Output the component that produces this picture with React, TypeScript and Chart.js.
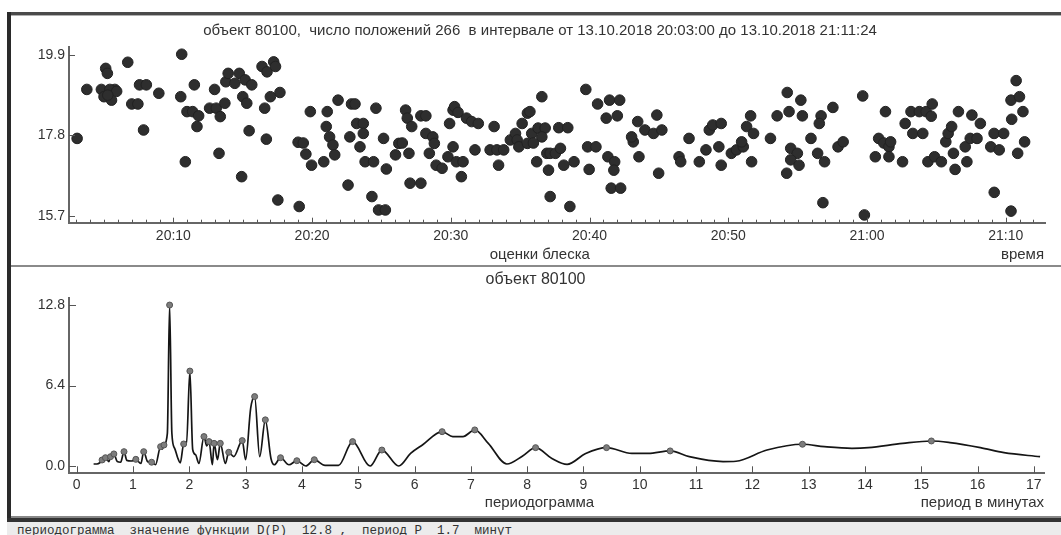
import React, { useEffect, useRef } from 'react';
import { Chart, registerables } from 'chart.js';

Chart.register(...registerables);
Chart.defaults.font.family = '"Liberation Sans", Arial, sans-serif';

const TITLE_TOP = 'объект 80100,  число положений 266  в интервале от 13.10.2018 20:03:00 до 13.10.2018 21:11:24';
const TITLE_BOTTOM = 'объект 80100';
const X_TITLE_TOP = 'оценки блеска';
const X_UNIT_TOP = 'время';
const X_TITLE_BOTTOM = 'периодограмма';
const X_UNIT_BOTTOM = 'период в минутах';
const STATUS_TEXT = 'периодограмма  значение функции D(P)  12.8 ,  период P  1.7  минут';

// minutes after 20:00
const timeTicks = [10, 20, 30, 40, 50, 60, 70];
const magTicks = [15.7, 17.8, 19.9];
const periodTicks = [0, 1, 2, 3, 4, 5, 6, 7, 8, 9, 10, 11, 12, 13, 14, 15, 16, 17];
const powerTicks = [0.0, 6.4, 12.8];

// observation times (minutes after 20:00)
const obsMinutes = [
  3.06, 3.76, 5.12, 5.24, 4.81, 5.0, 5.54, 5.78, 5.42, 5.91, 5.27, 6.71, 7.0, 7.44, 7.56, 8.05, 7.85, 8.95,
  10.53, 10.6, 10.86, 10.98, 11.51, 11.39, 11.82, 11.7, 12.61, 12.97, 13.09, 13.29, 13.38, 13.71, 13.78, 13.95,
  14.43, 14.75, 14.92, 15.0, 15.29, 15.17, 15.65, 15.46, 16.39, 16.75, 17.23, 17.36, 16.58, 16.99, 17.68, 16.7,
  17.53, 19.07, 18.99, 19.36, 19.55, 19.87, 19.96, 20.84, 21.02, 21.09, 21.26, 21.5, 21.63, 21.87, 22.59, 22.72,
  22.84, 23.09, 23.21, 23.45, 23.69, 23.69, 23.82, 24.31, 24.43, 24.6, 24.79, 25.28, 25.15, 25.35, 26.01, 26.25,
  26.5, 26.74, 26.86, 26.98, 27.06, 27.18, 27.84, 27.84, 28.2, 28.2, 28.45, 28.7, 28.81, 28.94, 29.37, 29.79,
  29.91, 30.16, 30.27, 30.52, 30.16, 30.4, 30.88, 30.76, 31.13, 31.5, 31.98, 31.74, 32.83, 33.12, 33.44, 33.32,
  33.81, 34.29, 34.66, 34.78, 34.9, 35.14, 35.52, 35.52,
  35.7, 35.83, 35.95, 36.56, 36.29, 36.8, 36.56, 36.19, 36.92, 37.16, 37.54, 37.9, 37.04, 37.16, 37.78, 38.43,
  38.14, 38.88, 38.58, 39.73, 39.86, 39.97, 40.46, 40.58, 41.44, 42.17, 41.2, 42.0, 41.32, 41.81, 41.75, 41.56,
  42.24, 43.15, 43.03, 43.47, 43.99, 43.56, 44.85, 44.61, 45.21, 44.98, 46.45, 46.57, 47.17, 47.91, 48.39, 48.63,
  48.88, 49.49, 49.32, 49.49, 50.22, 50.59, 51.08, 50.96, 51.32, 51.61, 51.82, 51.68, 53.04, 53.52, 54.25, 54.38,
  55.23, 55.34, 54.5, 54.98, 54.5, 55.1, 54.21, 55.96, 56.69, 56.56, 57.54, 56.44, 56.94, 56.82, 57.91, 58.28,
  59.69, 59.81, 61.33, 60.84, 61.21, 61.58, 61.7, 60.6, 61.58, 62.56, 62.75, 63.17, 63.3, 64.02, 63.77, 64.26,
  64.7, 64.63, 64.39, 64.87, 65.36, 65.68, 65.85, 66.1, 66.23, 66.35, 66.59, 67.08, 67.2, 67.44, 67.56, 67.93,
  68.17, 69.17, 68.92, 69.53, 69.16, 69.85, 70.43, 70.38, 70.75, 70.99, 71.24, 71.36, 70.86, 70.38,
];

// brightness estimates (magnitudes)
const obsMag = [
  17.72, 19.0, 19.55, 19.42, 19.0, 18.81, 18.72, 19.0, 19.0, 18.95, 18.85, 19.71, 18.62, 18.62, 19.12, 19.12, 17.94, 18.9,
  18.81, 19.92, 17.11, 18.42, 19.12, 18.42, 18.31, 18.03, 18.51, 19.0, 18.51, 17.33, 18.29, 18.64, 19.2, 19.42,
  19.16, 19.42, 16.72, 18.81, 18.64, 19.25, 19.12, 17.92, 19.6, 19.46, 19.72, 19.6, 18.51, 18.81, 18.92, 17.7,
  16.11, 15.94, 17.62, 17.6, 17.31, 18.42, 17.02, 17.11, 18.03, 18.42, 17.76, 17.55, 17.29, 18.72, 16.5, 17.76,
  18.62, 18.62, 18.11, 17.5, 18.11, 17.85, 17.11, 16.2, 17.11, 18.51, 15.85, 15.85, 17.72, 16.92, 17.29, 17.59,
  17.6, 18.46, 18.25, 17.33, 16.55, 18.03, 16.55, 18.31, 18.31, 17.85, 17.33, 17.76, 17.59, 17.02, 16.94, 17.24,
  18.11, 18.46, 18.55, 18.4, 17.5, 17.11, 17.11, 16.72, 18.25, 18.16, 18.11, 17.42, 17.42, 18.03, 17.02, 17.42,
  17.42, 17.68, 17.85, 17.68, 17.5, 18.11, 18.38, 17.59,
  18.42, 17.85, 17.6, 18.81, 17.99, 17.99, 17.76, 17.11, 17.33, 17.33, 17.33, 17.46, 16.89, 16.2, 18.0, 18.0,
  17.02, 17.11, 15.94, 19.0, 17.5, 16.91, 17.5, 18.62, 18.72, 18.72, 18.25, 18.31, 17.24, 17.11, 16.89, 16.42,
  16.42, 17.63, 17.76, 18.16, 17.94, 17.24, 18.33, 17.85, 17.94, 16.81, 17.24, 17.11, 17.72, 17.11, 17.42, 17.94,
  18.07, 18.11, 17.5, 17.02, 17.33, 17.42, 17.5, 17.63, 18.03, 18.31, 17.85, 17.11, 17.72, 18.31, 18.92, 18.42,
  18.72, 18.31, 17.46, 17.33, 17.16, 17.02, 16.81, 17.72, 18.31, 18.11, 18.53, 17.33, 17.11, 16.04, 17.5, 17.63,
  18.83, 15.72, 18.42, 17.72, 17.6, 17.5, 17.63, 17.24, 17.24, 17.11, 18.11, 18.42, 17.85, 17.85, 18.42, 18.42,
  18.62, 18.3, 17.11, 17.24, 17.11, 17.63, 17.85, 18.03, 17.33, 16.91, 18.42, 17.5, 17.11, 17.72, 18.33, 17.72,
  18.11, 16.31, 17.5, 17.42, 17.85, 17.85, 18.22, 18.72, 19.23, 18.81, 18.42, 17.63, 17.33, 15.82,
];

// periodogram: period (minutes) and D(P)
const periodP = [
  0.30, 0.36, 0.41, 0.45, 0.48, 0.51, 0.57, 0.60, 0.66, 0.72, 0.78, 0.84, 0.89, 0.97, 1.05, 1.14, 1.19, 1.26,
  1.33, 1.40, 1.49, 1.52, 1.55, 1.61, 1.65, 1.69, 1.74, 1.79, 1.84, 1.90, 1.95, 2.01, 2.06, 2.11, 2.17, 2.26,
  2.31, 2.35, 2.41, 2.44, 2.50, 2.55, 2.64, 2.70, 2.79, 2.94, 3.00, 3.09, 3.16, 3.25, 3.35, 3.45, 3.51, 3.62,
  3.77, 3.91, 4.07, 4.22, 4.41, 4.65, 4.90, 5.21, 5.42, 5.72, 5.93, 6.14, 6.49, 6.68, 6.86, 7.07, 7.31, 7.64,
  7.92, 8.15, 8.44, 8.71, 9.04, 9.41, 9.86, 10.15, 10.54, 10.88, 11.48, 11.71, 12.26, 12.89, 13.28, 13.77,
  14.06, 14.67, 15.18, 15.51, 16.05, 16.47, 17.11,
];
const periodD = [
  0.16, 0.16, 0.26, 0.48, 0.35, 0.66, 0.35, 0.74, 0.96, 0.35, 0.30, 1.14, 0.45, 0.40, 0.53, 0.20, 1.14, 0.35,
  0.30, 0.10, 1.54, 1.35, 1.67, 2.6, 12.8, 2.6, 1.4, 0.7, 0.25, 1.75, 1.75, 7.55, 1.3, 0.9, 0.2, 2.34,
  1.6, 1.94, 0.1, 1.8, 0.5, 1.8, 0.2, 1.09, 0.75, 2.02, 0.5, 4.6, 5.52, 0.74, 3.67, 0.6, 0.1, 0.66,
  0.1, 0.42, 0.0, 0.5, 0.05, 0.05, 1.94, 0.0, 1.27, 0.0, 1.0, 1.67, 2.73, 2.34, 2.34, 2.87, 1.8, 0.16,
  0.8, 1.46, 0.6, 0.13, 1.0, 1.46, 1.0, 1.0, 1.2, 0.74, 0.35, 0.38, 1.27, 1.73, 1.54, 1.41,
  1.46, 1.8, 1.99, 1.86, 1.46, 1.06, 0.74,
];

// marked local maxima of the periodogram
const peakP = [
  0.45, 0.51, 0.60, 0.66, 0.84, 1.05, 1.19, 1.33, 1.49, 1.55, 1.65, 1.90, 2.01, 2.26, 2.35, 2.44, 2.55,
  2.70, 2.94, 3.16, 3.35, 3.62, 3.91, 4.22, 4.90, 5.42, 6.49, 7.07, 8.15, 9.41, 10.54, 12.89, 15.18,
];
const peakD = [
  0.48, 0.66, 0.74, 0.96, 1.14, 0.53, 1.14, 0.30, 1.54, 1.67, 12.8, 1.75, 7.55, 2.34, 1.94, 1.8, 1.8,
  1.09, 2.02, 5.52, 3.67, 0.66, 0.42, 0.5, 1.94, 1.27, 2.73, 2.87, 1.46, 1.46, 1.2, 1.73, 1.99,
];

function timeLabel(m: number): string {
  const h = 20 + Math.floor(m / 60);
  const mm = Math.round(m % 60);
  return `${h}:${String(mm).padStart(2, '0')}`;
}

type TextItem = { text: string; x: number; y: number; align: CanvasTextAlign; font: string };

const decorPlugin = {
  id: 'decor',
  afterDraw(chart: any, _args: any, opts: any) {
    const { ctx, chartArea, scales } = chart;
    const xs = scales.x;
    const ys = scales.y;
    ctx.save();
    ctx.strokeStyle = opts.tickColor || '#555';
    ctx.lineWidth = 1;
    for (const m of opts.xMarks as { v: number; len: number }[]) {
      const px = Math.round(xs.getPixelForValue(m.v)) + 0.5;
      ctx.beginPath();
      ctx.moveTo(px, chartArea.bottom);
      ctx.lineTo(px, chartArea.bottom - m.len);
      ctx.stroke();
    }
    for (const v of opts.yMarks as number[]) {
      const py = Math.round(ys.getPixelForValue(v)) + 0.5;
      ctx.beginPath();
      ctx.moveTo(chartArea.left, py);
      ctx.lineTo(chartArea.left + opts.yLen, py);
      ctx.stroke();
    }
    ctx.fillStyle = '#333';
    ctx.textBaseline = 'middle';
    for (const t of opts.texts as TextItem[]) {
      ctx.font = t.font;
      ctx.textAlign = t.align;
      ctx.fillText(t.text, t.x, t.y);
    }
    ctx.restore();
  },
};

const FONT_TXT = '15px "Liberation Sans", Arial, sans-serif';
const FONT_TITLE2 = '16px "Liberation Sans", Arial, sans-serif';

export default function App() {
  const topRef = useRef<HTMLCanvasElement | null>(null);
  const botRef = useRef<HTMLCanvasElement | null>(null);

  useEffect(() => {
    const minuteMarks: { v: number; len: number }[] = [];
    for (let m = 3; m <= 72; m++) minuteMarks.push({ v: m, len: timeTicks.includes(m) ? 5 : 3 });

    const noGrid = { display: false, drawTicks: false, tickLength: 0 };

    const top = new Chart(topRef.current as HTMLCanvasElement, {
      type: 'scatter',
      data: {
        datasets: [
          {
            data: obsMinutes.map((t, i) => ({ x: t, y: obsMag[i] })),
            pointRadius: 5.3,
            pointBackgroundColor: '#2e2e2e',
            pointBorderColor: '#222',
            pointBorderWidth: 1,
            clip: false as any,
          },
        ],
      },
      options: {
        responsive: false,
        animation: false,
        devicePixelRatio: 1,
        events: [],
        layout: { padding: { left: 0, right: 16, top: 31, bottom: 0 } },
        plugins: {
          legend: { display: false },
          tooltip: { enabled: false },
          decor: {
            xMarks: minuteMarks,
            yMarks: magTicks,
            yLen: 6,
            texts: [
              { text: TITLE_TOP, x: 540, y: 15, align: 'center', font: FONT_TXT },
              { text: X_TITLE_TOP, x: 539.8, y: 238.5, align: 'center', font: FONT_TXT },
              { text: X_UNIT_TOP, x: 1044, y: 238.5, align: 'right', font: FONT_TXT },
            ],
          },
        } as any,
        scales: {
          x: {
            type: 'linear',
            min: 2.475,
            max: 72.83,
            grid: noGrid,
            border: { display: true, color: '#666', width: 2 },
            afterBuildTicks: (s: any) => {
              s.ticks = timeTicks.map((v) => ({ value: v }));
            },
            afterFit: (s: any) => {
              s.height = 42.3;
            },
            ticks: {
              autoSkip: false,
              maxRotation: 0,
              padding: 5,
              color: '#333',
              font: { size: 14 },
              callback: (v: any) => timeLabel(Number(v)),
            },
          },
          y: {
            type: 'linear',
            min: 15.517,
            max: 20.109,
            grid: noGrid,
            border: { display: true, color: '#666', width: 2 },
            afterBuildTicks: (s: any) => {
              s.ticks = magTicks.map((v) => ({ value: v }));
            },
            afterFit: (s: any) => {
              s.width = 69;
            },
            ticks: {
              padding: 4,
              color: '#333',
              font: { size: 14 },
              callback: (v: any) => Number(v).toFixed(1),
            },
          },
        },
      },
      plugins: [decorPlugin],
    });

    const bot = new Chart(botRef.current as HTMLCanvasElement, {
      type: 'scatter',
      data: {
        datasets: [
          {
            data: peakP.map((p, i) => ({ x: p, y: peakD[i] })),
            pointRadius: 3,
            pointBackgroundColor: '#7d7d7d',
            pointBorderColor: '#555',
            pointBorderWidth: 1,
            showLine: false,
            clip: false as any,
          },
          {
            data: periodP.map((p, i) => ({ x: p, y: periodD[i] })),
            showLine: true,
            borderColor: '#151515',
            borderWidth: 1.7,
            pointRadius: 0,
            tension: 0.4,
            cubicInterpolationMode: 'monotone',
            clip: false as any,
          },
        ],
      },
      options: {
        responsive: false,
        animation: false,
        devicePixelRatio: 1,
        events: [],
        layout: { padding: { left: 0, right: 17, top: 31, bottom: 0 } },
        plugins: {
          legend: { display: false },
          tooltip: { enabled: false },
          decor: {
            xMarks: periodTicks.map((v) => ({ v, len: 7 })),
            yMarks: powerTicks,
            yLen: 7,
            texts: [
              { text: TITLE_BOTTOM, x: 535.5, y: 13, align: 'center', font: FONT_TITLE2 },
              { text: X_TITLE_BOTTOM, x: 539.5, y: 236, align: 'center', font: FONT_TXT },
              { text: X_UNIT_BOTTOM, x: 1044, y: 236, align: 'right', font: FONT_TXT },
            ],
          },
        } as any,
        scales: {
          x: {
            type: 'linear',
            min: -0.137,
            max: 17.18,
            grid: noGrid,
            border: { display: true, color: '#666', width: 2 },
            afterBuildTicks: (s: any) => {
              s.ticks = periodTicks.map((v) => ({ value: v }));
            },
            afterFit: (s: any) => {
              s.height = 42.7;
            },
            ticks: {
              autoSkip: false,
              maxRotation: 0,
              padding: 3,
              color: '#333',
              font: { size: 14 },
              callback: (v: any) => String(Number(v)),
            },
          },
          y: {
            type: 'linear',
            min: -0.58,
            max: 13.36,
            grid: noGrid,
            border: { display: true, color: '#666', width: 2 },
            afterBuildTicks: (s: any) => {
              s.ticks = powerTicks.map((v) => ({ value: v }));
            },
            afterFit: (s: any) => {
              s.width = 69;
            },
            ticks: {
              padding: 4,
              color: '#333',
              font: { size: 14 },
              callback: (v: any) => Number(v).toFixed(1),
            },
          },
        },
      },
      plugins: [decorPlugin],
    });

    return () => {
      top.destroy();
      bot.destroy();
    };
  }, []);

  const abs = (s: React.CSSProperties): React.CSSProperties => ({ position: 'absolute', ...s });

  return (
    <div style={abs({ left: 0, top: 0, width: 1061, height: 535, background: '#fff', overflow: 'hidden' })}>
      <canvas ref={topRef} width={1061} height={249} style={abs({ left: 0, top: 16, width: 1061, height: 249 })} />
      <canvas ref={botRef} width={1061} height={249} style={abs({ left: 0, top: 267, width: 1061, height: 249 })} />
      {/* frame */}
      <div style={abs({ left: 7, top: 12, width: 1054, height: 3, background: '#4a4a4a' })} />
      <div style={abs({ left: 11, top: 15, width: 1050, height: 1, background: '#b0b0b0' })} />
      <div style={abs({ left: 7, top: 12, width: 4, height: 510, background: '#2a2a2a' })} />
      <div style={abs({ left: 11, top: 265, width: 1050, height: 1.5, background: '#8a8a8a' })} />
      <div style={abs({ left: 11, top: 516, width: 1050, height: 2, background: '#888' })} />
      <div style={abs({ left: 7, top: 518, width: 1054, height: 4, background: '#333' })} />
      <div style={abs({ left: 7, top: 522, width: 1054, height: 13, background: '#ececec' })} />
      <div
        style={abs({
          left: 17,
          top: 524,
          height: 16,
          lineHeight: '16px',
          font: '12.5px "Liberation Mono", "Courier New", monospace',
          color: '#333',
          whiteSpace: 'pre',
        })}
      >
        {STATUS_TEXT}
      </div>
    </div>
  );
}
